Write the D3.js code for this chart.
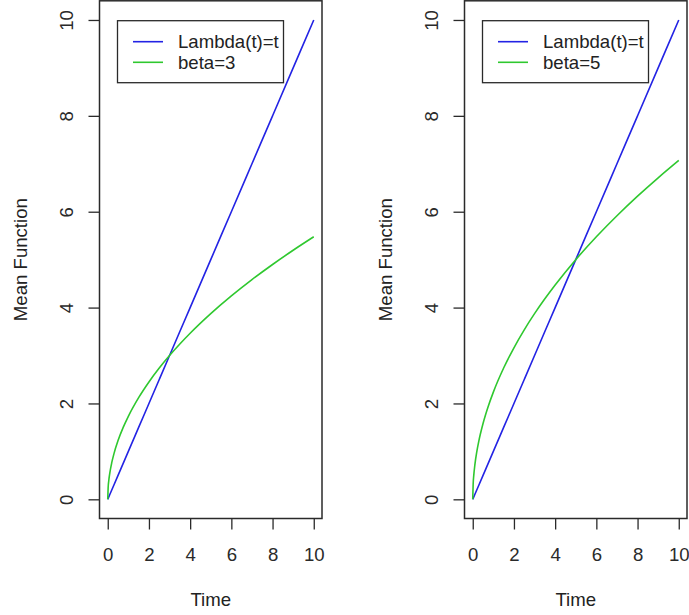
<!DOCTYPE html>
<html>
<head>
<meta charset="utf-8">
<script src="https://cdn.jsdelivr.net/npm/d3@7"></script>
<style>
  body { margin: 0; background: #fff; }
  text { font-family: "Liberation Sans", Arial, sans-serif; fill: #222; }
</style>
</head>
<body>
<div id="container"></div>
<script>
let w = 689;
let h = 615;

let times = [0, 0.02, 0.05, 0.1, 0.2, 0.3, 0.5, 0.75, 1, 1.5, 2, 2.5, 3, 3.5, 4, 5, 6, 7, 8, 9, 10];
// Lambda(t)=t reference line
let lambdaVals = [0, 0.02, 0.05, 0.1, 0.2, 0.3, 0.5, 0.75, 1, 1.5, 2, 2.5, 3, 3.5, 4, 5, 6, 7, 8, 9, 10];
// mean function, beta=3 (left panel)
let beta3Vals = [0, 0.245, 0.387, 0.548, 0.775, 0.949, 1.225, 1.5, 1.732, 2.121, 2.449, 2.739, 3, 3.24, 3.464, 3.873, 4.243, 4.583, 4.899, 5.196, 5.477];
// mean function, beta=5 (right panel)
let beta5Vals = [0, 0.316, 0.5, 0.707, 1.0, 1.225, 1.581, 1.936, 2.236, 2.739, 3.162, 3.536, 3.873, 4.183, 4.472, 5, 5.477, 5.916, 6.325, 6.708, 7.071];

let xTicks = [0, 2, 4, 6, 8, 10];
let yTicks = [0, 2, 4, 6, 8, 10];
let panelLabels = ["beta=3", "beta=5"];
let panelSeries = [beta3Vals, beta5Vals];

let blue = "#2323e4";
let green = "#2fc82f";
let ink = "#2a2a2a";
let fontSize = "18.6px";

let viz = d3.select("#container")
  .append("svg")
    .attr("width", w)
    .attr("height", h)
    .style("background-color", "white")
;

// plot box inside each panel (R style, 4% range expansion)
let boxLeft = 99.5;
let boxRight = 322;
let boxTop = 0.8;
let boxBottom = 518.5;
let panelOffset = 365;

let xScale = d3.scaleLinear().domain([-0.4, 10.4]).range([boxLeft, boxRight]);
let yScale = d3.scaleLinear().domain([-0.4, 10.4]).range([boxBottom, boxTop]);

function drawPanel(index){
  let g = viz.append("g")
    .attr("class", "panel")
    .attr("transform", "translate(" + (index * panelOffset) + ",0)");

  let line = d3.line()
    .x(function(d){ return xScale(d[0]); })
    .y(function(d){ return yScale(d[1]); })
    .curve(d3.curveMonotoneX);

  let linear = d3.zip(times, lambdaVals);
  let curve = d3.zip(times, panelSeries[index]);

  g.append("path")
    .attr("d", line(linear))
    .attr("fill", "none")
    .attr("stroke", blue)
    .attr("stroke-width", 1.6);

  g.append("path")
    .attr("d", line(curve))
    .attr("fill", "none")
    .attr("stroke", green)
    .attr("stroke-width", 1.6);

  // x axis
  let xAxis = d3.axisBottom(xScale).tickValues(xTicks).tickSize(11).tickSizeOuter(0).tickFormat(d3.format("d"));
  let xAxisGroup = g.append("g").attr("class", "xaxis")
    .attr("transform", "translate(0," + boxBottom + ")")
    .call(xAxis);
  xAxisGroup.select(".domain").remove();
  xAxisGroup.selectAll("line").attr("stroke", ink).attr("stroke-width", 1.3);
  xAxisGroup.selectAll("text")
    .attr("y", 42.5)
    .attr("dy", null)
    .style("font-size", fontSize)
    .style("fill", ink);

  // y axis with rotated labels like R's default las=0
  let yAxis = d3.axisLeft(yScale).tickValues(yTicks).tickSize(11).tickSizeOuter(0).tickFormat(d3.format("d"));
  let yAxisGroup = g.append("g").attr("class", "yaxis")
    .attr("transform", "translate(" + boxLeft + ",0)")
    .call(yAxis);
  yAxisGroup.select(".domain").remove();
  yAxisGroup.selectAll("line").attr("stroke", ink).attr("stroke-width", 1.3);
  yAxisGroup.selectAll("text")
    .attr("x", null)
    .attr("dy", null)
    .attr("text-anchor", "middle")
    .attr("transform", "translate(-27,0) rotate(-90)")
    .style("font-size", fontSize)
    .style("fill", ink);

  // box around the plot region
  g.append("rect")
    .attr("x", boxLeft)
    .attr("y", boxTop)
    .attr("width", boxRight - boxLeft)
    .attr("height", boxBottom - boxTop)
    .attr("fill", "none")
    .attr("stroke", ink)
    .attr("stroke-width", 1.5);

  // axis titles
  g.append("text")
    .text("Time")
    .attr("x", (boxLeft + boxRight) / 2)
    .attr("y", 606)
    .attr("text-anchor", "middle")
    .style("font-size", fontSize);

  g.append("text")
    .text("Mean Function")
    .attr("text-anchor", "middle")
    .attr("transform", "translate(26.5," + ((boxTop + boxBottom) / 2) + ") rotate(-90)")
    .style("font-size", fontSize);

  // legend
  let legend = g.append("g").attr("class", "legend");
  let entries = [
    {label: "Lambda(t)=t", color: blue},
    {label: panelLabels[index], color: green}
  ];
  legend.selectAll(".entry").data(entries).enter()
    .append("line")
      .attr("x1", 133)
      .attr("x2", 163)
      .attr("y1", function(d, i){ return 41.7 + i * 20.6; })
      .attr("y2", function(d, i){ return 41.7 + i * 20.6; })
      .attr("stroke", function(d){ return d.color; })
      .attr("stroke-width", 1.6);
  legend.selectAll(".label").data(entries).enter()
    .append("text")
      .text(function(d){ return d.label; })
      .attr("x", 178)
      .attr("y", function(d, i){ return 48.3 + i * 20.6; })
      .style("font-size", fontSize);
  legend.append("rect")
    .attr("x", 117.5)
    .attr("y", 20.7)
    .attr("width", 166)
    .attr("height", 62)
    .attr("fill", "none")
    .attr("stroke", ink)
    .attr("stroke-width", 1.3);
}

drawPanel(0);
drawPanel(1);
</script>
</body>
</html>
